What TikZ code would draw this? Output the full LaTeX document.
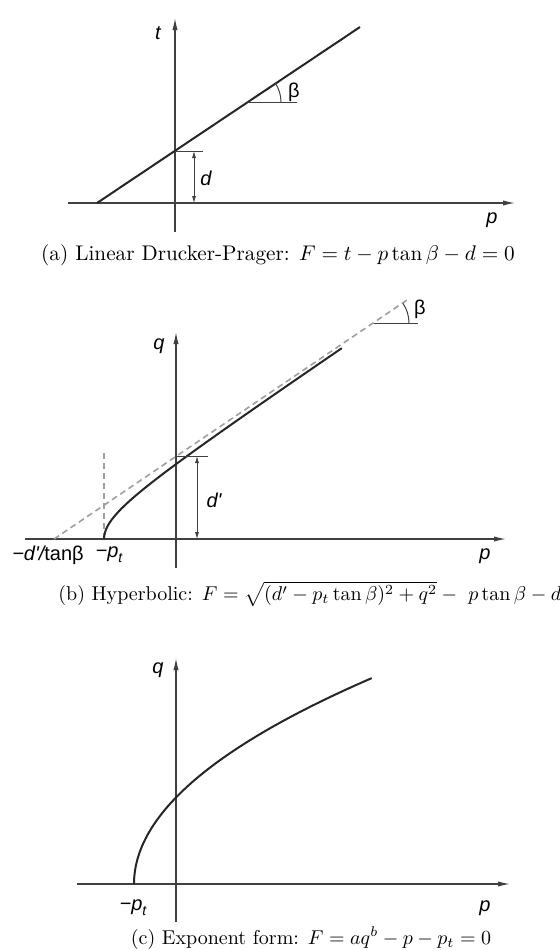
\documentclass[tikz,border=0pt]{standalone}
\usepackage{fontspec}
\newfontfamily\lblfont{Liberation Sans}
\usetikzlibrary{arrows.meta}

\tikzset{
  axis/.style={black!75,line width=0.6pt,-{Latex[length=6pt,width=2.6pt]}},
  curve/.style={black!85,line width=1pt},
  helper/.style={gray!75,line width=0.8pt,dash pattern=on 3pt off 2pt},
  tick/.style={black!75,line width=0.5pt},
  dim/.style={black!75,line width=0.4pt,{Latex[length=3.5pt,width=2pt]}-{Latex[length=3.5pt,width=2pt]}},
  lbl/.style={font=\lblfont\itshape,inner sep=1pt},
  caption/.style={font=\normalsize,inner sep=1pt}
}

\begin{document}
\begin{tikzpicture}[x=0.5pt,y=-0.5pt]
  \useasboundingbox (0,0) rectangle (560,950);
  % (a)
  \draw[axis] (68,203) -- (515,203);
  \draw[axis] (175,232) -- (175,18);
  \node[lbl] (ta) at (158,33) {t};
  \node[lbl] (pa) at (492,220) {p};
  \coordinate (A0) at (97,203);
  \coordinate (A1) at (360,27);
  \draw[curve] (A0) -- (A1);
  \coordinate (Da) at (175,151);
  \draw[tick] (Da) -- ++(28,0);
  \draw[dim] (194,151) -- (194,203);
  \node[lbl] (da) at (206,178) {d};
  \coordinate (Ba) at (247,102);
  \draw[tick] (Ba) -- ++(50,0);
  \draw[tick] (Ba) ++(34,0) arc[start angle=0,end angle=-33.8,radius=34];
  \node[lbl,font=\lblfont] (betaa) at (294,92) {β};
  \node[caption,scale=1.06] (capa) at (278,255) {(a) Linear Drucker-Prager: $F = t - p\tan\beta - d = 0$};
  % (b)
  \draw[axis] (25,539) -- (506,539);
  \draw[axis] (176,568) -- (176,332);
  \node[lbl] (qb) at (159,346) {q};
  \node[lbl] (pb) at (485,556) {p};
  \coordinate (B0) at (54,539);
  \coordinate (B1) at (410,298);
  \draw[helper] (B0) -- (B1);
  \draw[helper] (104,539) -- (104,452);
  \draw[curve] plot[domain=0:1,samples=60,smooth]
    ({176+(10*veclen(3.35,19.1*\x)-82)/0.674},{539-191*\x});
  \coordinate (Db) at (176,456);
  \draw[tick] (Db) -- ++(32,0);
  \draw[dim] (197,456) -- (197,539);
  \node[lbl] (db) at (214,500) {d'};
  \coordinate (Bb) at (374,323);
  \draw[tick] (Bb) -- ++(44,0);
  \draw[tick] (Bb) ++(35,0) arc[start angle=0,end angle=-34.1,radius=35];
  \node[lbl,font=\lblfont] (betab) at (420,309) {β};
  \node[lbl] (ib) at (48,555) {−d'/{\upshape tanβ}};
  \node[lbl] (ptb) at (109,555) {−p\raisebox{-0.5ex}{\scriptsize t}};
  \node[caption,anchor=west] (capb) at (56,594)
    {(b) Hyperbolic: $F = \sqrt{(d' - p_t\tan\beta)^2 + q^2} -\ p\tan\beta - d$};
  % (c)
  \draw[axis] (77,884) -- (510,884);
  \draw[axis] (176,922) -- (176,658);
  \node[lbl] (qc) at (158,670) {q};
  \node[lbl] (pc) at (485,908) {p};
  \node[lbl] (ptc) at (133,908) {−p\raisebox{-0.5ex}{\scriptsize t}};
  \draw[curve] plot[domain=0:1,samples=60,smooth] ({134+238*\x*\x},{884-206*\x});
  \node[caption] (capc) at (311,938) {(c) Exponent form: $F = aq^b - p - p_t = 0$};
\end{tikzpicture}
\end{document}
